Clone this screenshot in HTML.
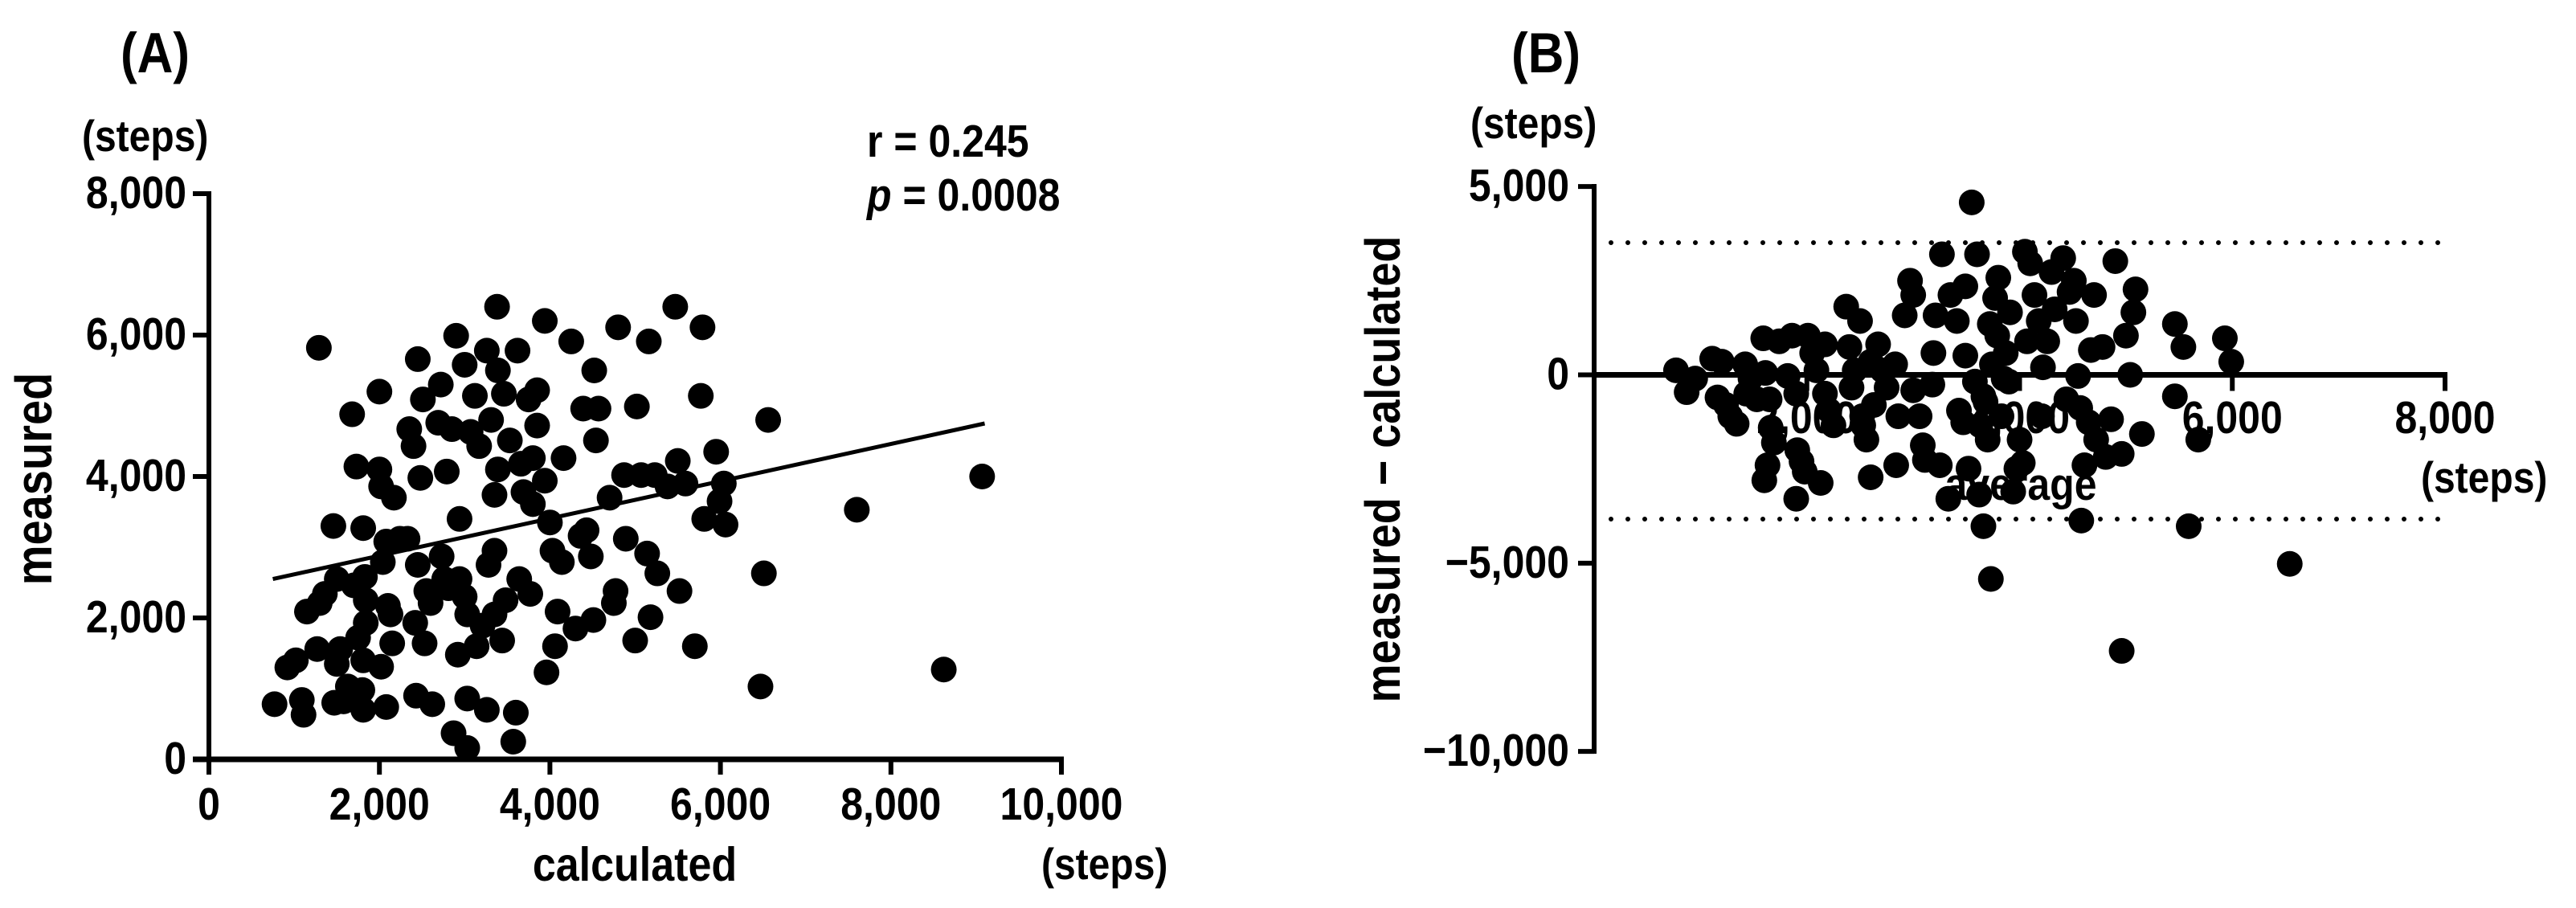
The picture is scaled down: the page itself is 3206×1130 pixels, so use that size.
<!DOCTYPE html>
<html><head><meta charset="utf-8"><style>
html,body{margin:0;padding:0;background:#fff;}
svg{display:block;font-family:"Liberation Sans",sans-serif;font-weight:bold;}
</style></head><body>
<svg id="chart" width="3206" height="1130" viewBox="0 0 3206 1130" xmlns="http://www.w3.org/2000/svg">
<g id="pa"></g>
<g id="pb"></g>
</svg>
<script>
// Panel A data (thousands of steps)
const aCalc = [0.77,0.92,1.02,1.09,1.11,1.15,1.29,1.27,1.30,1.36,1.46,1.47,1.50,1.50,1.54,1.58,1.63,1.68,1.70,1.73,1.75,1.80,1.81,1.81,1.83,1.84,1.84,1.81,2.0,2.02,2.0,2.02,2.04,2.08,2.10,2.13,2.15,2.08,2.17,2.24,2.33,2.35,2.40,2.45,2.42,2.43,2.45,2.48,2.51,2.53,2.55,2.6,2.62,2.69,2.72,2.73,2.76,2.79,2.81,2.85,2.87,2.90,2.92,2.94,2.94,3.0,3.0,3.03,3.03,3.03,3.07,3.12,3.14,3.17,3.21,3.26,3.26,3.28,3.31,3.35,3.35,3.35,3.38,3.39,3.39,3.44,3.46,3.48,3.53,3.57,3.6,3.62,3.64,3.66,3.69,3.75,3.77,3.80,3.80,3.85,3.85,3.94,3.94,3.96,4.00,4.03,4.06,4.09,4.14,4.16,4.25,4.30,4.36,4.39,4.43,4.48,4.51,4.52,4.54,4.57,4.70,4.75,4.77,4.80,4.87,4.89,5.02,5.0,5.07,5.14,5.16,5.18,5.23,5.26,5.38,5.47,5.50,5.52,5.59,5.70,5.77,5.79,5.81,5.95,5.99,6.04,6.06,6.47,6.51,6.56,7.60,8.62,9.07];
const aMeas = [0.78,1.30,1.40,0.84,0.63,2.09,5.82,1.56,2.21,2.34,3.30,0.80,1.35,2.55,1.56,0.82,1.03,4.88,2.46,4.14,1.72,0.98,1.40,3.27,2.58,2.25,1.93,0.70,4.1,1.31,5.2,3.86,2.79,3.08,2.17,2.05,1.64,0.74,3.70,3.12,3.12,4.67,4.43,2.75,1.93,0.9,5.66,3.98,5.09,1.64,2.38,2.21,0.78,4.76,5.3,2.87,2.55,4.07,2.42,4.67,0.37,5.99,1.48,2.55,3.40,5.58,2.3,2.05,0.16,0.86,4.63,5.14,1.60,4.43,1.89,0.70,5.78,2.75,4.80,2.95,2.05,3.74,6.40,4.10,5.50,1.68,5.17,2.25,4.51,0.25,0.66,5.78,2.55,4.18,3.78,5.09,2.34,3.61,4.26,4.72,5.22,3.94,6.20,1.23,3.35,2.95,1.60,2.09,2.79,4.26,5.91,1.85,3.16,4.96,3.24,2.87,1.97,5.50,4.51,4.96,3.70,2.21,2.38,6.11,4.02,3.12,4.99,1.68,4.02,2.91,5.91,2.01,4.02,2.63,3.86,6.40,4.22,2.38,3.90,1.60,5.14,6.11,3.40,4.35,3.65,3.90,3.32,1.03,2.63,4.80,3.53,1.27,4.00];
const fitX = [0.75, 9.1];
const fitY = [2.55, 4.75];
const aXTicks = [0,2000,4000,6000,8000,10000];
const aXTickLabels = ["0","2,000","4,000","6,000","8,000","10,000"];
const aYTicks = [0,2000,4000,6000,8000];
const aYTickLabels = ["0","2,000","4,000","6,000","8,000"];

// Panel B data (thousands of steps)
const bAvg = [0.77,0.87,0.95,1.11,1.20,1.16,1.24,1.28,1.34,1.42,1.43,1.47,1.53,1.59,1.61,1.65,1.66,1.69,1.63,1.60,1.74,1.82,1.86,1.90,1.91,1.95,1.90,1.98,2.01,2.05,2.09,2.13,2.17,2.17,2.21,2.25,2.37,2.40,2.42,2.45,2.50,2.52,2.53,2.56,2.60,2.60,2.63,2.67,2.71,2.75,2.83,2.86,2.84,2.92,2.97,3.00,3.00,3.06,3.09,3.11,3.18,3.19,3.21,3.25,3.27,3.33,3.35,3.41,3.43,3.47,3.49,3.49,3.52,3.55,3.58,3.60,3.63,3.62,3.66,3.66,3.68,3.70,3.72,3.73,3.74,3.77,3.79,3.80,3.83,3.85,3.87,3.90,3.91,3.94,3.97,4.00,4.03,4.05,4.07,4.10,4.14,4.18,4.21,4.22,4.26,4.30,4.33,4.41,4.44,4.47,4.51,4.53,4.55,4.57,4.58,4.61,4.65,4.67,4.70,4.72,4.78,4.81,4.86,4.90,4.96,4.96,5.00,5.04,5.07,5.09,5.15,5.46,5.46,5.54,5.59,5.68,5.93,5.99,6.54];
const bDiff = [0.12,-0.46,-0.1,0.43,0.35,-0.6,-0.8,-1.1,-1.3,0.28,-0.5,-0.1,-0.65,0.97,0.05,-0.65,-1.4,-1.8,-2.4,-2.8,0.89,-0.03,1.04,-0.5,-2.0,-2.3,-3.29,-2.57,1.04,0.58,0.12,-2.87,-0.5,0.81,-0.95,-1.34,1.81,0.74,-0.34,0.12,1.43,-1.1,-1.34,-1.72,-2.72,0.35,-0.8,0.81,0.12,-0.34,0.28,-1.1,-2.4,1.58,2.5,2.12,-0.41,-1.1,-1.87,-2.26,-0.26,0.58,1.58,-2.4,3.2,-3.29,2.12,1.43,-0.95,-1.26,2.35,0.51,-2.49,4.58,-0.18,3.2,-1.34,-3.18,-4.02,-0.57,-0.72,-1.72,1.35,-5.42,0.28,2.04,1.04,2.58,-1.1,-0.1,0.58,-0.18,1.66,-3.1,-2.49,-1.72,-2.34,3.27,0.89,2.96,2.12,1.43,-1.1,0.2,0.89,2.73,1.74,3.1,-0.65,2.2,2.5,1.43,-0.03,-0.88,-3.87,-2.4,-1.26,0.66,2.12,-1.72,0.74,-2.18,-1.18,3.02,-7.33,-2.1,1.04,0.0,1.66,2.27,-1.57,-0.57,1.35,0.74,-4.02,-1.72,0.97,0.35,-5.02];
const loaLimits = [3.51, -3.83];
const bXTicks = [0,2000,4000,6000,8000];
const bXTickLabels = ["","2,000","4,000","6,000","8,000"];
const bYTicks = [5000,0,-5000,-10000];
const bYTickLabels = ["5,000","0","\u22125,000","\u221210,000"];

const NS = "http://www.w3.org/2000/svg";
function mk(parent, tag, attrs, text){
  const e = document.createElementNS(NS, tag);
  for (const k in attrs) e.setAttribute(k, attrs[k]);
  if (text !== undefined) e.textContent = text;
  parent.appendChild(e);
  return e;
}

// ---------- Panel A ----------
const pa = document.getElementById('pa');
const ax = v => 260 + v * (1321 - 260) / 10000;
const ay = v => 945 - v * (945 - 241) / 8000;

let t;
t = mk(pa,'text',{x:150,y:90,'font-size':62},'(A)');
 
t = mk(pa,'text',{x:102,y:188,'font-size':48},'(steps)');
 
t = mk(pa,'text',{x:1079,y:195,'font-size':50},'r = 0.245');
 
t = mk(pa,'text',{x:1079,y:262,'font-size':50});
 
mk(t,'tspan',{'font-style':'italic'},'p');
mk(t,'tspan',{},' = 0.0008');

for (let i = 0; i < aCalc.length; i++){
  const c = mk(pa,'circle',{cx:ax(aCalc[i]*1000),cy:ay(aMeas[i]*1000),r:16,fill:'#000'});
  
  
}
const fl = mk(pa,'line',{x1:ax(fitX[0]*1000),y1:ay(fitY[0]*1000),x2:ax(fitX[1]*1000),y2:ay(fitY[1]*1000),stroke:'#000','stroke-width':5});
 

const ya = mk(pa,'line',{x1:260,y1:238,x2:260,y2:948,stroke:'#000','stroke-width':6});
 
const xa = mk(pa,'line',{x1:240,y1:945,x2:1324,y2:945,stroke:'#000','stroke-width':7});
 
for (let i = 0; i < aYTicks.length; i++){
  const y = ay(aYTicks[i]);
  const tk = mk(pa,'line',{x1:240,y1:y,x2:260,y2:y,stroke:'#000','stroke-width':6});
   
  const lb = mk(pa,'text',{x:232,y:y+18,'font-size':50,'text-anchor':'end'},aYTickLabels[i]);
   
}
for (let i = 0; i < aXTicks.length; i++){
  const x = ax(aXTicks[i]);
  const tk = mk(pa,'line',{x1:x,y1:945,x2:x,y2:964,stroke:'#000','stroke-width':6});
   
  const lb = mk(pa,'text',{x:x,y:1020,'font-size':50,'text-anchor':'middle'},aXTickLabels[i]);
   
}
t = mk(pa,'text',{x:790,y:1096,'font-size':52,'text-anchor':'middle'},'calculated');
 
t = mk(pa,'text',{x:1296,y:1094,'font-size':48},'(steps)');
 
t = mk(pa,'text',{x:0,y:0,'font-size':56,'text-anchor':'middle',transform:'translate(64,596) rotate(-90)'},'measured');
 

// ---------- Panel B ----------
const pb = document.getElementById('pb');
const bx = v => 1984 + v * (3043 - 1984) / 8000;
const by = v => 466.5 - v * (935 - 232) / 15000;

t = mk(pb,'text',{x:1881,y:90,'font-size':62},'(B)');
 
t = mk(pb,'text',{x:1830,y:172,'font-size':48},'(steps)');
 

for (let i = 0; i < bXTicks.length; i++){
  const x = bx(bXTicks[i]);
  const lb = mk(pb,'text',{x:x,y:539,'font-size':50,'text-anchor':'middle'},bXTickLabels[i]);
   
}
t = mk(pb,'text',{x:2515,y:622,'font-size':50,'text-anchor':'middle'},'average');
 
t = mk(pb,'text',{x:3013,y:613,'font-size':48},'(steps)');
 

for (let i = 0; i < loaLimits.length; i++){
  const y = by(loaLimits[i]*1000);
  const l = mk(pb,'line',{x1:2005,y1:y,x2:3048,y2:y,stroke:'#000','stroke-width':6,'stroke-dasharray':'0 21','stroke-linecap':'round'});
  
  
}
for (let i = 0; i < bAvg.length; i++){
  const c = mk(pb,'circle',{cx:bx(bAvg[i]*1000),cy:by(bDiff[i]*1000),r:16,fill:'#000'});
  
  
}
const yb = mk(pb,'line',{x1:1984,y1:229,x2:1984,y2:938,stroke:'#000','stroke-width':6});
 
const xb = mk(pb,'line',{x1:1984,y1:by(0),x2:3046,y2:by(0),stroke:'#000','stroke-width':7});
 
for (let i = 0; i < bYTicks.length; i++){
  const y = by(bYTicks[i]);
  const tk = mk(pb,'line',{x1:1964,y1:y,x2:1984,y2:y,stroke:'#000','stroke-width':6});
   
  const lb = mk(pb,'text',{x:1953,y:y+18,'font-size':50,'text-anchor':'end'},bYTickLabels[i]);
   
}
for (let i = 1; i < bXTicks.length; i++){
  const x = bx(bXTicks[i]);
  const tk = mk(pb,'line',{x1:x,y1:by(0),x2:x,y2:by(0)+20,stroke:'#000','stroke-width':6});
   
}
t = mk(pb,'text',{x:0,y:0,'font-size':54,'text-anchor':'middle',transform:'translate(1742,584) rotate(-90)'},'measured \u2212 calculated');
 

// Condense text: keep measured width, enlarge glyph height (reference uses a narrow font)
document.querySelectorAll('svg text').forEach(function(el){
  if (!el.textContent) return;
  const w = el.getComputedTextLength();
  const fs = parseFloat(el.getAttribute('font-size'));
  el.setAttribute('font-size', (fs * 1.14).toFixed(1));
  el.setAttribute('textLength', w.toFixed(1));
  el.setAttribute('lengthAdjust', 'spacingAndGlyphs');
});
</script>
</body></html>
